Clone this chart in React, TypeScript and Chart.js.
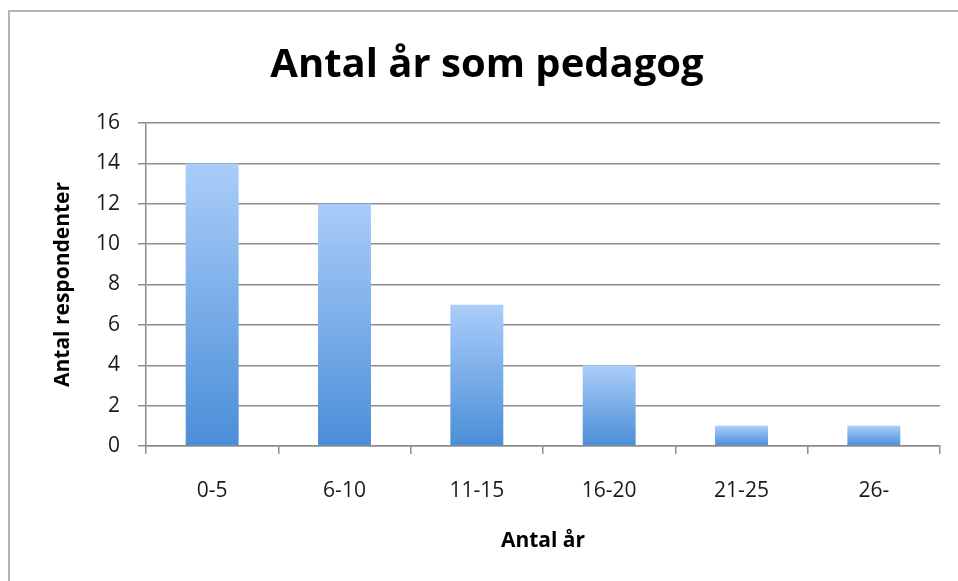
import React, { useEffect, useRef } from "react";
import { Chart, registerables } from "chart.js";

Chart.register(...registerables);

const categories = ["0-5", "6-10", "11-15", "16-20", "21-25", "26-"];
const respondents = [14, 12, 7, 4, 1, 1];
const chartTitle = "Antal år som pedagog";
const xTitle = "Antal år";
const yTitle = "Antal respondenter";

const FONT = "'Open Sans', Lato, sans-serif";

const framePlugin = {
  id: "frame",
  beforeDraw(chart: any) {
    const c = chart.ctx;
    c.save();
    c.fillStyle = "#ffffff";
    c.fillRect(0, 0, chart.width, chart.height);
    c.strokeStyle = "#b4b4b4";
    c.lineWidth = 2;
    c.strokeRect(9, 11, chart.width + 20, chart.height + 20);
    c.restore();
  },
};

export default function App() {
  const ref = useRef<HTMLCanvasElement>(null);

  useEffect(() => {
    if (!ref.current) return;
    const chart = new Chart(ref.current, {
      type: "bar",
      data: {
        labels: categories,
        datasets: [
          {
            data: respondents,
            barPercentage: 0.4,
            categoryPercentage: 1,
            borderWidth: 0,
            backgroundColor: (ctx: any) => {
              const ch = ctx.chart;
              if (!ch.chartArea || ctx.type !== "data") return "#74a9e8";
              const y = ch.scales.y;
              const top = y.getPixelForValue(ctx.raw);
              const bottom = y.getPixelForValue(0);
              const g = ch.ctx.createLinearGradient(0, top, 0, bottom);
              g.addColorStop(0, "#aacdf9");
              g.addColorStop(1, "#4a8ed8");
              return g;
            },
          },
        ],
      },
      options: {
        responsive: false,
        animation: false,
        layout: { padding: { left: 34, right: 18, top: 0, bottom: 0 } },
        plugins: {
          legend: { display: false },
          tooltip: { enabled: false },
          title: {
            display: true,
            text: chartTitle,
            color: "#000000",
            font: { family: FONT, size: 40, weight: "bold" },
            padding: { top: 42, bottom: 33 },
          },
        },
        scales: {
          x: {
            afterFit: (s: any) => {
              s.height = 135;
            },
            grid: {
              offset: true,
              drawOnChartArea: false,
              drawTicks: true,
              tickLength: 8,
              color: "#8c8c8c",
              lineWidth: 1.5,
            },
            border: { display: true, color: "#8c8c8c", width: 1.5 },
            ticks: {
              color: "#1a1a1a",
              font: { family: FONT, size: 21 },
              padding: 24,
            },
            title: {
              display: true,
              text: xTitle,
              color: "#000000",
              font: { family: FONT, size: 21, weight: "bold" },
              padding: { top: 0, bottom: 27 },
            },
          },
          y: {
            min: 0,
            max: 16,
            afterFit: (s: any) => {
              s.width = 112;
            },
            grid: {
              color: "#8c8c8c",
              lineWidth: 1.5,
              drawTicks: true,
              tickLength: 8,
            },
            border: { display: true, color: "#8c8c8c", width: 1.5 },
            ticks: {
              stepSize: 2,
              color: "#1a1a1a",
              font: { family: FONT, size: 21 },
              padding: 18,
            },
            title: {
              display: true,
              text: yTitle,
              color: "#000000",
              font: { family: FONT, size: 21, weight: "bold" },
              padding: { top: 16, bottom: 0 },
            },
          },
        },
      },
      plugins: [framePlugin],
    });
    return () => chart.destroy();
  }, []);

  return (
    <div style={{ position: "absolute", left: 0, top: 0, width: 958, height: 581 }}>
      <canvas ref={ref} width={958} height={581} />
    </div>
  );
}
